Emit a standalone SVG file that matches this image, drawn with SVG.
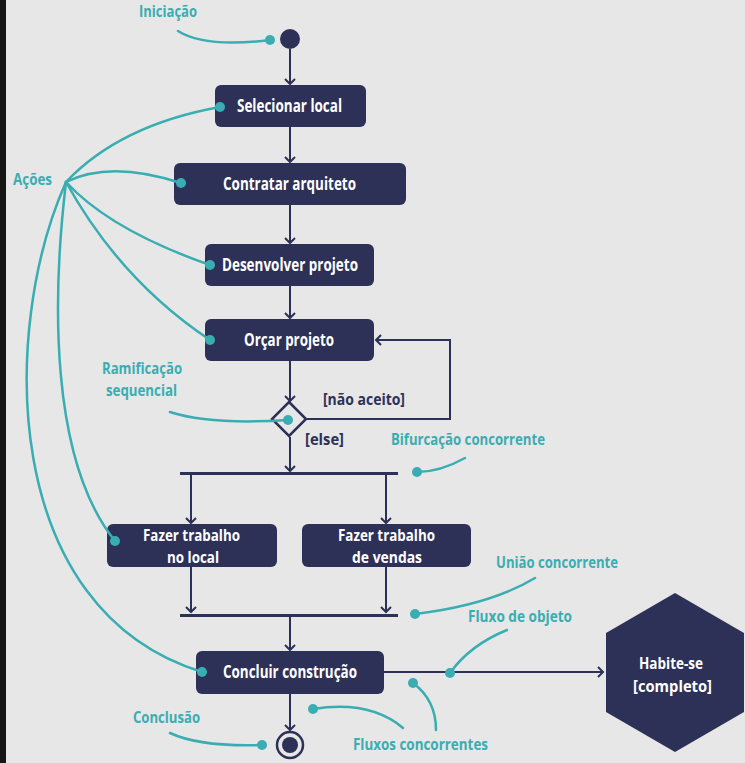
<svg xmlns="http://www.w3.org/2000/svg" width="745" height="763" viewBox="0 0 745 763">
<defs>
<style>
.node{fill:#2d3157}
.nt{font-family:"Open Sans","Liberation Sans",sans-serif;font-weight:bold;font-size:17px;fill:#ffffff;text-anchor:middle}
.nt2{font-family:"Open Sans","Liberation Sans",sans-serif;font-weight:bold;font-size:16px;fill:#ffffff;text-anchor:middle}
.lt{font-family:"Open Sans","Liberation Sans",sans-serif;font-weight:bold;font-size:16px;fill:#3aadb2}
.gt{font-family:"Open Sans","Liberation Sans",sans-serif;font-weight:bold;font-size:16px;fill:#2d3157}
.flow{fill:none;stroke:#2d3157;stroke-width:2}
.ann{fill:none;stroke:#3aadb2;stroke-width:2.5;stroke-linecap:round}
.dot{fill:#3aadb2}
</style>
<marker id="arr" markerUnits="userSpaceOnUse" markerWidth="12" markerHeight="12" refX="6" refY="6" orient="auto">
<path d="M1,1 L6,6 L1,11" fill="none" stroke="#2d3157" stroke-width="2"/>
</marker>
</defs>
<rect x="0" y="0" width="745" height="763" fill="#e7e7e7"/>
<rect x="0" y="0" width="6" height="763" fill="#151515"/>

<g id="connectors">
<path class="flow" d="M290,49 V84" marker-end="url(#arr)"/>
<path class="flow" d="M290,127 V162" marker-end="url(#arr)"/>
<path class="flow" d="M290,205 V243" marker-end="url(#arr)"/>
<path class="flow" d="M290,286 V318" marker-end="url(#arr)"/>
<path class="flow" d="M290,361 V401" marker-end="url(#arr)"/>
<path class="flow" d="M307,419 H450 V340 H376" marker-end="url(#arr)"/>
<path class="flow" d="M290,437 V471" marker-end="url(#arr)"/>
<path class="flow" d="M191,474 V523" marker-end="url(#arr)"/>
<path class="flow" d="M386,474 V523" marker-end="url(#arr)"/>
<path class="flow" d="M191,567 V612" marker-end="url(#arr)"/>
<path class="flow" d="M386,567 V612" marker-end="url(#arr)"/>
<path class="flow" d="M290,616 V650" marker-end="url(#arr)"/>
<path class="flow" d="M290,694 V730" marker-end="url(#arr)"/>
<path class="flow" d="M384,672 H603" marker-end="url(#arr)"/>
</g>

<g id="start"><circle cx="290" cy="39" r="10" class="node"/></g>
<g id="selecionar"><rect x="215" y="85" width="151" height="42" rx="6" class="node"/><text class="nt" x="289.5" y="112" textLength="105" lengthAdjust="spacingAndGlyphs">Selecionar local</text></g>
<g id="contratar"><rect x="174" y="163" width="232" height="42" rx="6" class="node"/><text class="nt" x="289.5" y="190" textLength="133" lengthAdjust="spacingAndGlyphs">Contratar arquiteto</text></g>
<g id="desenvolver"><rect x="205" y="244" width="169" height="42" rx="6" class="node"/><text class="nt" x="290" y="271" textLength="136" lengthAdjust="spacingAndGlyphs">Desenvolver projeto</text></g>
<g id="orcar"><rect x="205" y="319" width="169" height="42" rx="6" class="node"/><text class="nt" x="289" y="346" textLength="90" lengthAdjust="spacingAndGlyphs">Orçar projeto</text></g>
<g id="decision"><polygon points="289,402 306,419 289,436 272,419" fill="#e7e7e7" stroke="#2d3157" stroke-width="2.5"/></g>
<g id="fork"><rect x="180" y="472" width="218" height="3" class="node"/></g>
<g id="trabalho-local"><rect x="107" y="524" width="170" height="43" rx="6" class="node"/><text class="nt2" x="191.5" y="541" textLength="97" lengthAdjust="spacingAndGlyphs">Fazer trabalho</text><text class="nt2" x="193" y="563" textLength="52" lengthAdjust="spacingAndGlyphs">no local</text></g>
<g id="trabalho-vendas"><rect x="302" y="524" width="169" height="43" rx="6" class="node"/><text class="nt2" x="386.5" y="541" textLength="97" lengthAdjust="spacingAndGlyphs">Fazer trabalho</text><text class="nt2" x="387" y="563" textLength="70" lengthAdjust="spacingAndGlyphs">de vendas</text></g>
<g id="join"><rect x="180" y="614" width="218" height="3" class="node"/></g>
<g id="concluir"><rect x="196" y="651" width="188" height="43" rx="6" class="node"/><text class="nt" x="290" y="678" textLength="134" lengthAdjust="spacingAndGlyphs">Concluir construção</text></g>
<g id="end"><circle cx="290" cy="745" r="13" fill="none" stroke="#2d3157" stroke-width="2.5"/><circle cx="290" cy="745" r="8" class="node"/></g>
<g id="habite"><polygon points="675,593 744,633 744,712 675,752 606,712 606,633" class="node"/><text class="nt2" x="671" y="669" textLength="64" lengthAdjust="spacingAndGlyphs">Habite-se</text><text class="nt2" x="672.5" y="692" textLength="79" lengthAdjust="spacingAndGlyphs">[completo]</text></g>

<g id="guards">
<text class="gt" x="323" y="405" textLength="82" lengthAdjust="spacingAndGlyphs">[não aceito]</text>
<text class="gt" x="305" y="445" textLength="39" lengthAdjust="spacingAndGlyphs">[else]</text>
</g>

<g id="annotations">
<text class="lt" x="139" y="17" textLength="58" lengthAdjust="spacingAndGlyphs">Iniciação</text>
<path class="ann" d="M178,31 Q205,48 270,40"/><circle class="dot" cx="270" cy="40" r="5"/>
<text class="lt" x="13" y="185" textLength="39" lengthAdjust="spacingAndGlyphs">Ações</text>
<path class="ann" d="M66,182 Q120,125 220,107"/><circle class="dot" cx="220" cy="107" r="5"/>
<path class="ann" d="M66,182 Q110,160 181,183"/><circle class="dot" cx="181" cy="183" r="5"/>
<path class="ann" d="M66,182 Q110,230 210,265"/><circle class="dot" cx="210" cy="265" r="5"/>
<path class="ann" d="M66,182 Q120,280 210,340"/><circle class="dot" cx="210" cy="340" r="5"/>
<path class="ann" d="M66,182 C52,300 50,460 115,541"/><circle class="dot" cx="115" cy="541" r="5"/>
<path class="ann" d="M66,182 C0,330 0,610 202,672"/><circle class="dot" cx="202" cy="672" r="5"/>
<text class="lt" x="102" y="374" textLength="80" lengthAdjust="spacingAndGlyphs">Ramificação</text>
<text class="lt" x="106" y="396" textLength="71" lengthAdjust="spacingAndGlyphs">sequencial</text>
<path class="ann" d="M170,412 Q210,425 288,420"/><circle class="dot" cx="288" cy="420" r="5"/>
<text class="lt" x="391" y="445" textLength="154" lengthAdjust="spacingAndGlyphs">Bifurcação concorrente</text>
<path class="ann" d="M465,458 Q440,472 417,472"/><circle class="dot" cx="417" cy="472" r="5"/>
<text class="lt" x="496" y="568" textLength="122" lengthAdjust="spacingAndGlyphs">União concorrente</text>
<path class="ann" d="M535,578 Q490,605 415,614"/><circle class="dot" cx="415" cy="614" r="5"/>
<text class="lt" x="468" y="622" textLength="104" lengthAdjust="spacingAndGlyphs">Fluxo de objeto</text>
<path class="ann" d="M507,630 Q470,645 450,673"/><circle class="dot" cx="450" cy="673" r="5"/>
<text class="lt" x="353" y="750" textLength="135" lengthAdjust="spacingAndGlyphs">Fluxos concorrentes</text>
<path class="ann" d="M403,728 Q370,700 313,709"/><circle class="dot" cx="313" cy="709" r="5"/>
<path class="ann" d="M436,730 Q436,700 413,683"/><circle class="dot" cx="413" cy="683" r="5"/>
<text class="lt" x="133" y="723" textLength="67" lengthAdjust="spacingAndGlyphs">Conclusão</text>
<path class="ann" d="M170,733 Q200,747 262,745"/><circle class="dot" cx="262" cy="745" r="5"/>
</g>
</svg>
